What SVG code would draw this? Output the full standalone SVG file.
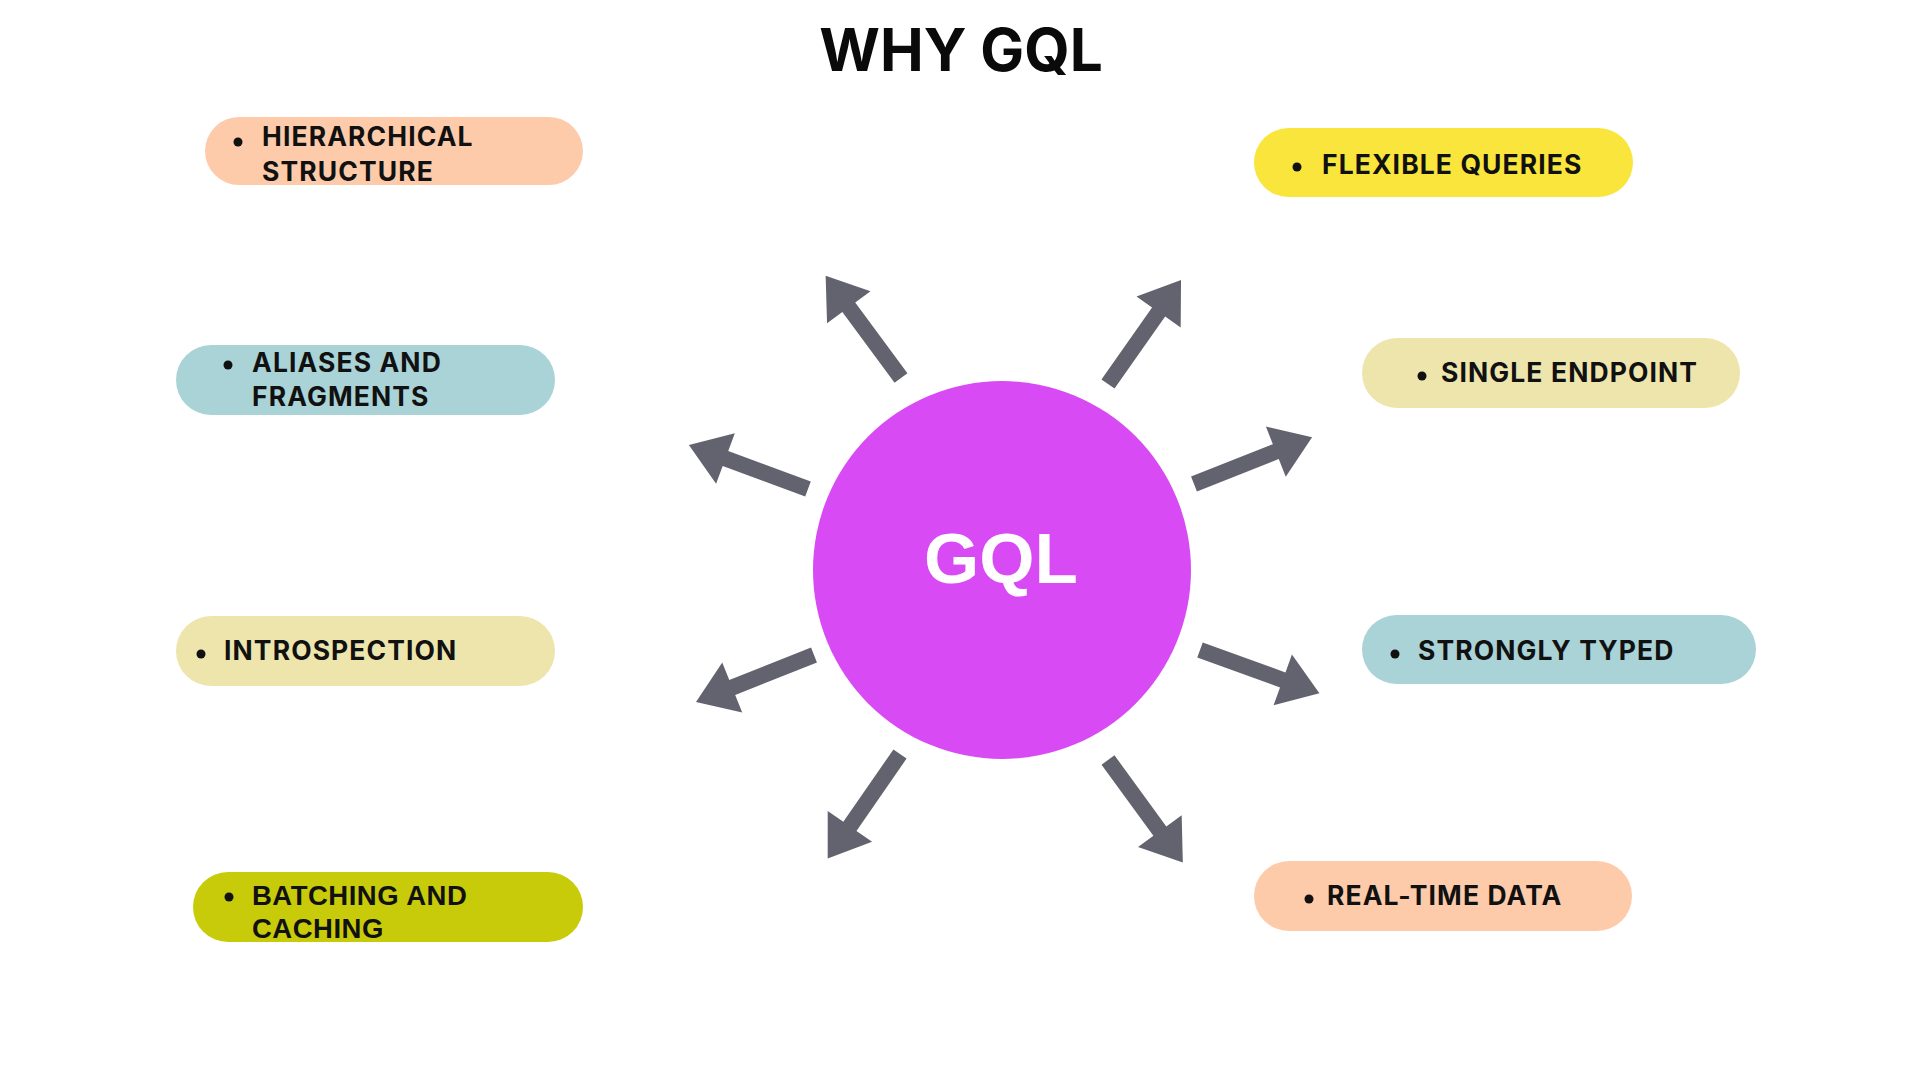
<svg xmlns="http://www.w3.org/2000/svg" width="1920" height="1080" viewBox="0 0 1920 1080">
<style>
.t{font-family:Inter,"Liberation Sans",sans-serif;font-weight:700;font-size:26.5px;letter-spacing:1.1px;fill:#111}
.a{font-family:"Liberation Sans",Arial,sans-serif;font-weight:700;font-size:27.5px;letter-spacing:0.5px;fill:#111}
.arr{fill:#63636F}
.dot{fill:#111}
</style>
<defs>
<path id="arrow" d="M0,-8 H88 V-27 L127,0 L88,27 V8 H0 Z"/>
</defs>
<rect width="1920" height="1080" fill="#FFFFFF"/>
<text id="title" x="961" y="71" text-anchor="middle" style="font-family:Inter,'Liberation Sans',sans-serif;font-weight:700;font-size:58.5px;fill:#0A0A0A">WHY GQL</text>

<g id="connectors">
<use href="#arrow" class="arr" transform="translate(901,378) rotate(-126.4)"/>
<use href="#arrow" class="arr" transform="translate(1108,384) rotate(-54.9)"/>
<use href="#arrow" class="arr" transform="translate(808,489) rotate(-159.7)"/>
<use href="#arrow" class="arr" transform="translate(814,655) rotate(158.3)"/>
<use href="#arrow" class="arr" transform="translate(1194,484) rotate(-21.6)"/>
<use href="#arrow" class="arr" transform="translate(1200,650) rotate(19.9)"/>
<use href="#arrow" class="arr" transform="translate(900,754) rotate(124.7)"/>
<use href="#arrow" class="arr" transform="translate(1108,760) rotate(53.9)"/>
</g>

<g id="gql">
<circle cx="1002" cy="570" r="189" fill="#D84AF4"/>
<text x="1001" y="583" text-anchor="middle" style="font-family:'Liberation Sans',Arial,sans-serif;font-weight:700;font-size:71px;fill:#FFFFFF">GQL</text>
</g>

<g id="hierarchical">
<rect x="205" y="117" width="378" height="68" rx="34" fill="#FDCBAA"/>
<circle class="dot" cx="238" cy="142" r="4.5"/>
<text class="t" x="262" y="146">HIERARCHICAL</text>
<text class="t" x="262" y="181">STRUCTURE</text>
</g>

<g id="aliases">
<rect x="176" y="345" width="379" height="70" rx="35" fill="#A9D3D6"/>
<circle class="dot" cx="228" cy="365" r="4.5"/>
<text class="t" x="252" y="372">ALIASES AND</text>
<text class="t" x="252" y="406">FRAGMENTS</text>
</g>

<g id="introspection">
<rect x="176" y="616" width="379" height="70" rx="35" fill="#EEE5AD"/>
<circle class="dot" cx="201" cy="654" r="4.5"/>
<text class="t" x="224" y="660">INTROSPECTION</text>
</g>

<g id="batching">
<rect x="193" y="872" width="390" height="70" rx="35" fill="#C8CB0A"/>
<circle class="dot" cx="229" cy="897" r="4.5"/>
<text class="a" x="252" y="905">BATCHING AND</text>
<text class="a" x="252" y="938">CACHING</text>
</g>

<g id="flexible">
<rect x="1254" y="128" width="379" height="69" rx="34.5" fill="#FAE53C"/>
<circle class="dot" cx="1297" cy="167" r="4.5"/>
<text class="t" x="1322" y="174">FLEXIBLE QUERIES</text>
</g>

<g id="single">
<rect x="1362" y="338" width="378" height="70" rx="35" fill="#EEE5AD"/>
<circle class="dot" cx="1422" cy="376" r="4.5"/>
<text class="t" x="1441" y="382">SINGLE ENDPOINT</text>
</g>

<g id="strongly">
<rect x="1362" y="615" width="394" height="69" rx="34.5" fill="#A9D3D6"/>
<circle class="dot" cx="1395" cy="654" r="4.5"/>
<text class="t" x="1418" y="660">STRONGLY TYPED</text>
</g>

<g id="realtime">
<rect x="1254" y="861" width="378" height="70" rx="35" fill="#FDCBAA"/>
<circle class="dot" cx="1309" cy="899" r="4.5"/>
<text class="t" x="1327" y="905">REAL-TIME DATA</text>
</g>
</svg>
